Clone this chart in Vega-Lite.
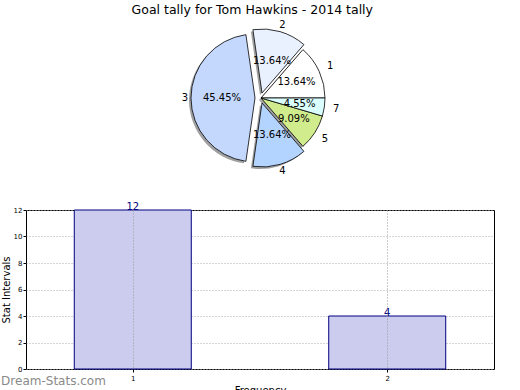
{
  "$schema": "https://vega.github.io/schema/vega-lite/v6.json",
  "background": "white",
  "padding": {"left": 0, "top": 3, "right": 0, "bottom": 0},
  "title": {"text": "Goal tally for Tom Hawkins - 2014 tally", "fontSize": 12.5, "font": "DejaVu Sans", "fontWeight": "normal", "anchor": "middle", "offset": 4, "dx": 4, "color": "#000"},
  "config": {"font": "DejaVu Sans", "view": {"stroke": null}},
  "spacing": 25,
  "datasets": {
    "pie": [
      {"slice": 1, "goals": 3, "pct": "13.64%"},
      {"slice": 2, "goals": 3, "pct": "13.64%"},
      {"slice": 3, "goals": 10, "pct": "45.45%"},
      {"slice": 4, "goals": 3, "pct": "13.64%"},
      {"slice": 5, "goals": 2, "pct": "9.09%"},
      {"slice": 7, "goals": 1, "pct": "4.55%"}
    ],
    "bars": [
      {"interval": 1, "count": 12},
      {"interval": 2, "count": 4}
    ]
  },
  "vconcat": [
    {
      "width": 470,
      "height": 150,
      "data": {"name": "pie"},
      "transform": [{"stack": "goals", "groupby": [], "sort": [{"field": "slice"}], "as": ["s0", "s1"]}],
      "encoding": {
        "theta": {"field": "s0", "type": "quantitative", "scale": {"domain": [0, 22], "range": [1.5708, -4.7124]}},
        "theta2": {"field": "s1"}
      },
      "layer": [
        {"transform": [{"filter": "datum.slice == 1 || datum.slice == 5 || datum.slice == 7"}],
         "mark": {"type": "arc", "outerRadius": 64, "xOffset": -2, "yOffset": 2, "fill": "#777", "opacity": 0.7}},
        {"transform": [{"filter": "datum.slice == 2"}],
         "mark": {"type": "arc", "outerRadius": 64, "xOffset": -1, "yOffset": -3, "fill": "#777", "opacity": 0.7}},
        {"transform": [{"filter": "datum.slice == 3"}],
         "mark": {"type": "arc", "outerRadius": 64, "xOffset": -8, "yOffset": 2, "fill": "#777", "opacity": 0.7}},
        {"transform": [{"filter": "datum.slice == 4"}],
         "mark": {"type": "arc", "outerRadius": 64, "xOffset": -1, "yOffset": 7, "fill": "#777", "opacity": 0.7}},
        {"transform": [{"filter": "datum.slice == 1 || datum.slice == 5 || datum.slice == 7"}],
         "mark": {"type": "arc", "outerRadius": 64, "stroke": "#000", "strokeWidth": 0.8},
         "encoding": {"color": {"field": "slice", "type": "nominal", "legend": null, "scale": {"domain": [1, 2, 3, 4, 5, 7], "range": ["#ffffff", "#eaf1fe", "#c4d8fd", "#b3d4fe", "#d0ec8c", "#dafefe"]}}}},
        {"transform": [{"filter": "datum.slice == 2"}],
         "mark": {"type": "arc", "outerRadius": 64, "xOffset": 1, "yOffset": -5, "stroke": "#000", "strokeWidth": 0.8},
         "encoding": {"color": {"field": "slice", "type": "nominal", "legend": null}}},
        {"transform": [{"filter": "datum.slice == 3"}],
         "mark": {"type": "arc", "outerRadius": 64, "xOffset": -6, "yOffset": 0, "stroke": "#000", "strokeWidth": 0.8},
         "encoding": {"color": {"field": "slice", "type": "nominal", "legend": null}}},
        {"transform": [{"filter": "datum.slice == 4"}],
         "mark": {"type": "arc", "outerRadius": 64, "xOffset": 1, "yOffset": 5, "stroke": "#000", "strokeWidth": 0.8},
         "encoding": {"color": {"field": "slice", "type": "nominal", "legend": null}}},
        {"mark": {"type": "text", "radius": 39, "fontSize": 10, "color": "#000"},
         "encoding": {
           "theta": {"field": "goals", "type": "quantitative", "stack": true},
           "theta2": null,
           "order": {"field": "slice", "type": "quantitative"},
           "detail": {"field": "slice", "type": "nominal"},
           "text": {"field": "pct"}
         }},
        {"mark": {"type": "text", "radius": 76, "fontSize": 10, "color": "#000"},
         "encoding": {
           "theta": {"field": "goals", "type": "quantitative", "stack": true},
           "theta2": null,
           "order": {"field": "slice", "type": "quantitative"},
           "detail": {"field": "slice", "type": "nominal"},
           "text": {"field": "slice"}
         }}
      ]
    },
    {
      "width": 468,
      "height": 159,
      "data": {"name": "bars"},
      "view": {"stroke": "#000", "strokeWidth": 1},
      "title": {"text": "Dream-Stats.com", "orient": "bottom", "anchor": "start", "frame": "bounds", "color": "#8a8a8a", "fontSize": 12, "fontWeight": "normal", "offset": -19},
      "encoding": {
        "x": {"field": "interval", "type": "quantitative", "scale": {"domain": [0.6, 2.4], "nice": false},
              "axis": {"values": [1, 2], "title": "Frequency", "titleFontSize": 10, "titleFontWeight": "normal", "titleColor": "#000", "labelFontSize": 7, "labelColor": "#000", "tickSize": 3, "tickColor": "#000", "domain": false, "grid": true, "gridDash": [1, 2], "gridColor": "#999", "zindex": 1, "titlePadding": 4, "labelPadding": 2}},
        "y": {"field": "count", "type": "quantitative", "scale": {"domain": [0, 12], "nice": false},
              "axis": {"values": [0, 2, 4, 6, 8, 10, 12], "title": "Stat Intervals", "titleFontSize": 10, "titleFontWeight": "normal", "titleColor": "#000", "labelFontSize": 7, "labelColor": "#000", "tickSize": 3, "tickColor": "#000", "domain": false, "grid": true, "gridDash": [1, 2], "gridColor": "#aaa", "titlePadding": 2, "labelPadding": 1}}
      },
      "layer": [
        {"mark": {"type": "bar", "width": 117, "fill": "#ccccee", "stroke": "#000080", "strokeWidth": 1}},
        {"mark": {"type": "text", "color": "#000080", "fontSize": 10, "baseline": "alphabetic"},
         "encoding": {"text": {"field": "count", "type": "quantitative"}}}
      ]
    }
  ]
}
